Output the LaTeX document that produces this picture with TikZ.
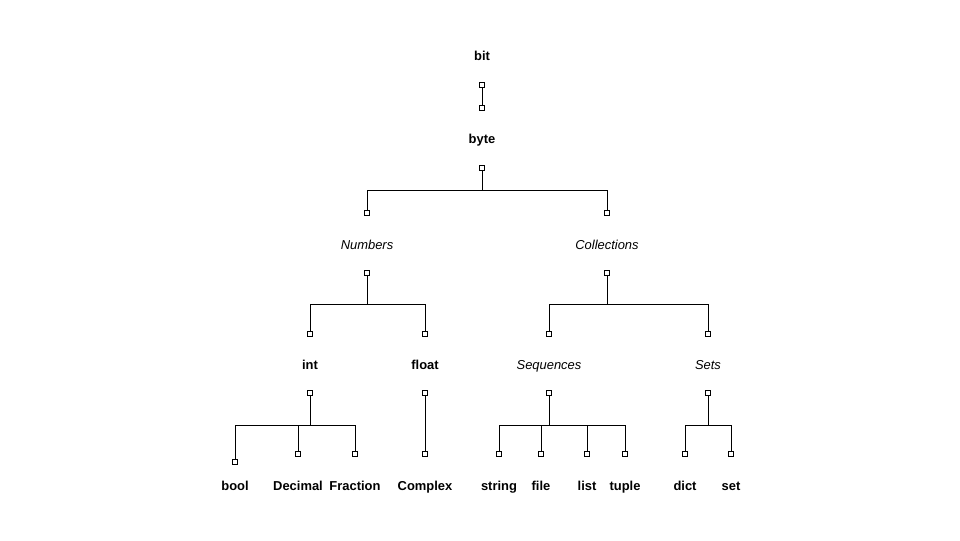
\documentclass[tikz,border=0pt]{standalone}
\usepackage{fontspec}
\setmainfont{Liberation Sans}
\usepackage{tikz}
\usetikzlibrary{positioning}

\begin{document}
\begin{tikzpicture}[
    x=0.75pt, y=-0.75pt,
    kind/.style={font=\fontsize{9.7}{12}\selectfont\bfseries, inner sep=1pt,
                 text height=1.6ex, text depth=0.4ex},
    group/.style={font=\fontsize{9.7}{12}\selectfont\itshape, inner sep=1pt,
                  text height=1.6ex, text depth=0.4ex},
    port/.style={draw, fill=white, minimum size=3.2pt, inner sep=0pt, line width=0.6pt},
    link/.style={line width=0.75pt}
]
\useasboundingbox (0,0) rectangle (960,540);

% labels
\node[kind] (bit) at (482,56) {bit};
\node[kind] (byte) at (482,139) {byte};
\node[group] (numbers) at (367,245) {Numbers};
\node[group] (collections) at (607,245) {Collections};
\node[kind] (int) at (310,365) {int};
\node[kind] (float) at (425,365) {float};
\node[group] (sequences) at (549,365) {Sequences};
\node[group] (sets) at (708,365) {Sets};
\node[kind] (bool) at (235,486) {bool};
\node[kind] (decimal) at (298,486) {Decimal};
\node[kind] (fraction) at (355,486) {Fraction};
\node[kind] (complex) at (425,486) {Complex};
\node[kind] (string) at (499,486) {string};
\node[kind] (file) at (541,486) {file};
\node[kind] (list) at (587,486) {list};
\node[kind] (tuple) at (625,486) {tuple};
\node[kind] (dict) at (685,486) {dict};
\node[kind] (set) at (731,486) {set};

% ports
\node[port] (bitOut) at (482,85) {};
\node[port] (byteIn) at (482,108) {};
\node[port] (byteOut) at (482,168) {};
\node[port] (numbersIn) at (367,213) {};
\node[port] (collectionsIn) at (607,213) {};
\node[port] (numbersOut) at (367,273) {};
\node[port] (collectionsOut) at (607,273) {};
\node[port] (intIn) at (310,334) {};
\node[port] (floatIn) at (425,334) {};
\node[port] (sequencesIn) at (549,334) {};
\node[port] (setsIn) at (708,334) {};
\node[port] (intOut) at (310,393) {};
\node[port] (floatOut) at (425,393) {};
\node[port] (sequencesOut) at (549,393) {};
\node[port] (setsOut) at (708,393) {};
\node[port] (boolIn) at (235,462) {};
\node[port] (decimalIn) at (298,454) {};
\node[port] (fractionIn) at (355,454) {};
\node[port] (complexIn) at (425,454) {};
\node[port] (stringIn) at (499,454) {};
\node[port] (fileIn) at (541,454) {};
\node[port] (listIn) at (587,454) {};
\node[port] (tupleIn) at (625,454) {};
\node[port] (dictIn) at (685,454) {};
\node[port] (setIn) at (731,454) {};

% links
\draw[link] (bitOut) -- (byteIn);
\draw[link] (byteOut) -- ++(0,22) -| (numbersIn);
\draw[link] (byteOut) -- ++(0,22) -| (collectionsIn);
\draw[link] (numbersOut) -- ++(0,31) -| (intIn);
\draw[link] (numbersOut) -- ++(0,31) -| (floatIn);
\draw[link] (collectionsOut) -- ++(0,31) -| (sequencesIn);
\draw[link] (collectionsOut) -- ++(0,31) -| (setsIn);
\draw[link] (intOut) -- ++(0,32) -| (boolIn);
\draw[link] (intOut) -- ++(0,32) -| (decimalIn);
\draw[link] (intOut) -- ++(0,32) -| (fractionIn);
\draw[link] (floatOut) -- (complexIn);
\draw[link] (sequencesOut) -- ++(0,32) -| (stringIn);
\draw[link] (sequencesOut) -- ++(0,32) -| (fileIn);
\draw[link] (sequencesOut) -- ++(0,32) -| (listIn);
\draw[link] (sequencesOut) -- ++(0,32) -| (tupleIn);
\draw[link] (setsOut) -- ++(0,32) -| (dictIn);
\draw[link] (setsOut) -- ++(0,32) -| (setIn);
\end{tikzpicture}
\end{document}
